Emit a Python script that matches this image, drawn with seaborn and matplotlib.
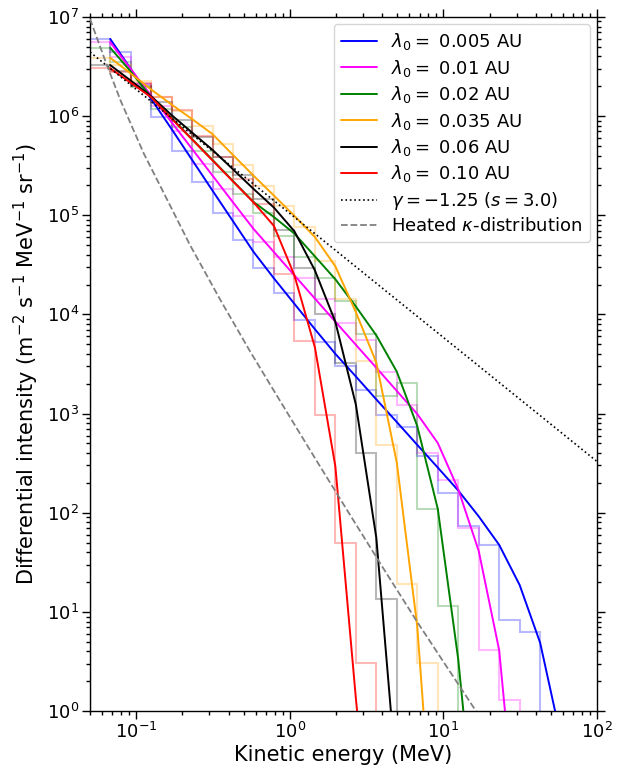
import matplotlib
matplotlib.use("Agg")
import matplotlib.pyplot as plt
from matplotlib.lines import Line2D
import numpy as np
import pandas as pd
import seaborn as sns

# ---------------- data ----------------
# bin edges in MeV (first edge 0.05); model curves are given at edges[1:]
energy_edges = [0.05, 0.06767, 0.09199, 0.1250, 0.1700, 0.2310, 0.3141, 0.4270,
                0.5804, 0.7889, 1.072, 1.458, 1.982, 2.694, 3.662, 4.977, 6.765,
                9.198, 12.50, 17.00, 23.10, 31.41, 42.70, 58.04]
line_energy = energy_edges[1:]

labels = ["0.005", "0.01", "0.02", "0.035", "0.06", "0.10"]
colors = ["blue", "magenta", "green", "orange", "black", "red"]

# model curves (differential intensity)
line_0005 = [6.0e6, 3.0e6, 1.49e6, 7.4e5, 3.62e5, 1.77e5, 8.7e4, 4.28e4, 2.31e4,
             1.28e4, 7.1e3, 4.0e3, 2.37e3, 1.39e3, 822, 484, 286, 168, 92, 47.5,
             18.7, 4.9, 0.56]
line_001 = [5.55e6, 2.99e6, 1.607e6, 8.65e5, 4.67e5, 2.51e5, 1.349e5, 7.29e4,
            4.25e4, 2.48e4, 1.445e4, 8.45e3, 4.94e3, 2.90e3, 1.694e3, 991, 506,
            173, 41.3, 4.13, 0.028]
line_002 = [4.89e6, 2.82e6, 1.549e6, 9.51e5, 5.86e5, 3.61e5, 2.21e5, 1.361e5,
            9.59e4, 6.53e4, 3.85e4, 2.26e4, 1.202e4, 6.15e3, 2.65e3, 748, 110,
            3.35, 0.0275]
line_0035 = [3.87e6, 2.69e6, 1.854e6, 1.306e6, 9.33e5, 6.58e5, 4.05e5, 2.51e5,
             1.578e5, 9.86e4, 6.03e4, 3.05e4, 1.054e4, 3.27e3, 320, 7.14, 0.011]
line_006 = [3.27e6, 2.28e6, 1.585e6, 1.023e6, 6.82e5, 4.56e5, 2.90e5, 1.845e5,
            1.194e5, 6.89e4, 2.78e4, 8.39e3, 1.233e3, 55.8, 0.195]
line_010 = [3.03e6, 2.17e6, 1.549e6, 9.42e5, 5.81e5, 3.57e5, 2.19e5, 1.352e5,
            7.80e4, 2.48e4, 4.65e3, 292, 1.35, 0.01]

# binned (histogram) intensities, one value per bin starting at 0.05 MeV
hist_0005 = [6.0e6, 4.40e6, 2.10e6, 9.7e5, 4.47e5, 2.14e5, 1.047e5, 5.58e4, 2.96e4,
             1.656e4, 8.89e3, 5.25e3, 3.01e3, 1.718e3, 962, 733, 371, 158, 74,
             47.5, 8.3, 6.24]
hist_001 = [5.55e6, 3.92e6, 2.10e6, 1.262e6, 7.05e5, 3.27e5, 1.832e5, 9.84e4,
            5.33e4, 3.83e4, 2.35e4, 1.442e4, 8.22e3, 5.50e3, 2.65e3, 1.233e3, 401,
            215, 70, 4.13, 1.29]
hist_002 = [4.89e6, 3.51e6, 1.963e6, 1.178e6, 7.74e5, 4.47e5, 2.70e5, 1.63e5,
            1.064e5, 6.18e4, 3.77e4, 2.35e4, 1.36e4, 6.28e3, 1.496e3, 2.04e3, 110,
            11.5]
hist_0035 = [3.88e6, 3.27e6, 2.26e6, 1.556e6, 1.125e6, 7.93e5, 5.21e5, 3.20e5,
             1.963e5, 1.233e5, 7.57e4, 3.43e4, 1.419e4, 3.37e3, 486, 19.2, 3.08]
hist_006 = [3.27e6, 2.85e6, 2.01e6, 1.384e6, 9.18e5, 6.10e5, 3.83e5, 2.54e5,
            1.452e5, 7.14e4, 2.96e4, 1.0e4, 3.25e3, 399, 13.4]
hist_010 = [3.03e6, 2.78e6, 2.15e6, 1.545e6, 1.151e6, 6.32e5, 3.85e5, 2.31e5,
            1.291e5, 2.54e4, 5.46e3, 977, 49.4, 3.08]

# power law gamma = -1.25 reference line
gamma_energy = [0.05, 100.0]
gamma_intensity = [4.42e6, 330.0]

# heated kappa-distribution
kappa_energy = [0.05, 0.0631, 0.0794, 0.1122, 0.166, 0.224, 0.355, 0.550, 0.871,
                1.514, 2.512, 4.07, 6.76, 10.0, 16.2, 17.8]
kappa_intensity = [9.55e6, 3.55e6, 1.413e6, 4.17e5, 1.259e5, 5.01e4, 1.38e4,
                   4.27e3, 1.318e3, 324, 91.2, 27.5, 7.94, 3.16, 1.02, 0.83]

lines = [line_0005, line_001, line_002, line_0035, line_006, line_010]
hists = [hist_0005, hist_001, hist_002, hist_0035, hist_006, hist_010]

# ---------------- styling ----------------
sns.set_theme(style="ticks", rc={
    "axes.edgecolor": "black", "xtick.color": "black", "ytick.color": "black",
    "axes.linewidth": 1.0, "axes.labelcolor": "black", "text.color": "black",
})
plt.rcParams["font.family"] = ["DejaVu Sans"]
plt.rcParams["mathtext.fontset"] = "dejavusans"

fig, ax = plt.subplots(figsize=(6.25, 7.68), dpi=100)
fig.subplots_adjust(left=0.144, right=0.955, bottom=0.074, top=0.978)
ax.set_xscale("log")
ax.set_yscale("log")

# long-format table for the model curves
frames = []
for lab, vals in zip(labels, lines):
    frames.append(pd.DataFrame({"energy": line_energy[:len(vals)],
                                "intensity": vals, "model": lab}))
df = pd.concat(frames, ignore_index=True)

# histograms (faint steps)
for vals, c in zip(hists, colors):
    ax.stairs(vals, energy_edges[:len(vals) + 1], baseline=1e-3,
              color=c, alpha=0.28, lw=1.5, zorder=1)

sns.lineplot(data=df, x="energy", y="intensity", hue="model",
             palette=dict(zip(labels, colors)), estimator=None, sort=False,
             lw=1.4, legend=False, ax=ax, zorder=3)

sns.lineplot(x=gamma_energy, y=gamma_intensity, color="black", ls=":",
             lw=1.2, ax=ax, zorder=3)
sns.lineplot(x=kappa_energy, y=kappa_intensity, color="gray", ls="--",
             lw=1.3, ax=ax, zorder=3)

ax.set_xlim(0.05, 100)
ax.set_ylim(1, 1e7)
ax.set_xlabel("Kinetic energy (MeV)", fontsize=15, labelpad=2)
ax.set_ylabel(r"Differential intensity (m$^{-2}$ s$^{-1}$ MeV$^{-1}$ sr$^{-1}$)",
              fontsize=15, labelpad=4)
ax.tick_params(which="both", direction="out", top=True, right=True,
               labelsize=13, width=1.0, pad=2.5)
ax.tick_params(which="major", length=5.5)
ax.tick_params(which="minor", length=3)
ax.yaxis.set_major_locator(matplotlib.ticker.LogLocator(base=10, numticks=20))
ax.yaxis.set_minor_locator(matplotlib.ticker.LogLocator(base=10,
                           subs=np.arange(2, 10), numticks=20))
ax.yaxis.set_minor_formatter(matplotlib.ticker.NullFormatter())

handles = [Line2D([], [], color=c, lw=1.4) for c in colors]
leg_labels = [r"$\lambda_0 = $ " + l + " AU" for l in labels]
handles.append(Line2D([], [], color="black", ls=":", lw=1.2))
leg_labels.append(r"$\gamma = -1.25$ ($s = 3.0$)")
handles.append(Line2D([], [], color="gray", ls="--", lw=1.3))
leg_labels.append(r"Heated $\kappa$-distribution")
ax.legend(handles, leg_labels, loc="upper right", fontsize=13,
          labelspacing=0.3, frameon=True, fancybox=True,
          borderaxespad=0.4)

fig.savefig("out.png", dpi=100)
